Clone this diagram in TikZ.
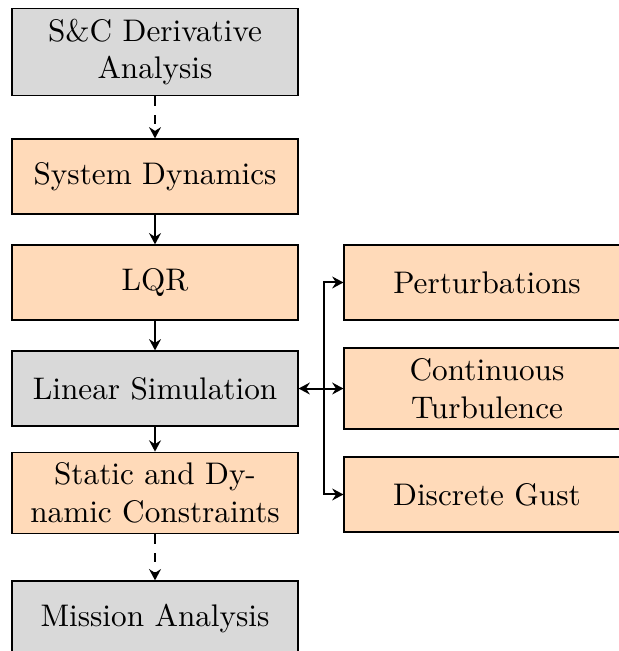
\documentclass[tikz,border=0pt]{standalone}
\usepackage{xcolor}
\definecolor{ColBlack}{RGB}{0,0,0}
\definecolor{ColPeach}{RGB}{255,218,185}
\definecolor{ColGrey}{RGB}{217,217,217}
\usepackage{tikz}
\usetikzlibrary{arrows.meta}
\tikzstyle{Block}=[draw=ColBlack!100,rectangle,thin,align=center,
    text width=82pt,inner xsep=4.75pt,inner ysep=3.4pt,minimum height=24pt]
\tikzstyle{Stage}=[Block,fill=ColPeach]
\tikzstyle{Task}=[Block,fill=ColGrey]
\tikzstyle{Flow}=[ColBlack!100,draw,line width=0.65pt,
    -{Stealth[length=3.6pt,width=3.8pt,inset=1.2pt]}]
\tikzstyle{BiFlow}=[ColBlack!100,draw,line width=0.65pt,
    {Stealth[length=3.6pt,width=3.8pt,inset=1.2pt]}-{Stealth[length=3.6pt,width=3.8pt,inset=1.2pt]}]

\begin{document}
\begin{tikzpicture}
        \useasboundingbox(0,0)rectangle(6.953,-7.324);
        \node[Task](SC)at(1.744,-0.585){S\&C Derivative\\Analysis};
        \node[Stage](SD)at(1.744,-1.986){System Dynamics};
        \node[Stage](LQR)at(1.744,-3.178){LQR};
        \node[Task](LS)at(1.744,-4.371){Linear Simulation};
        \node[Stage](SDC)at(1.744,-5.546){Static and Dynamic Constraints};
        \node[Task](MA)at(1.744,-6.958){Mission Analysis};
        \node[Stage](P)at(5.479,-3.178){Perturbations};
        \node[Stage](CT)at(5.479,-4.371){Continuous Turbulence};
        \node[Stage](DG)at(5.479,-5.563){Discrete Gust};
        \coordinate(Split)at(3.645,-4.371);
        \draw[Flow,dashed](SC)--(SD);
        \draw[Flow](SD)--(LQR);
        \draw[Flow](LQR)--(LS);
        \draw[Flow](LS)--(SDC);
        \draw[Flow,dashed](SDC)--(MA);
        \draw[BiFlow](LS)--(CT);
        \draw[Flow](Split)|-(P);
        \draw[Flow](Split)|-(DG);
    \end{tikzpicture}
\end{document}
